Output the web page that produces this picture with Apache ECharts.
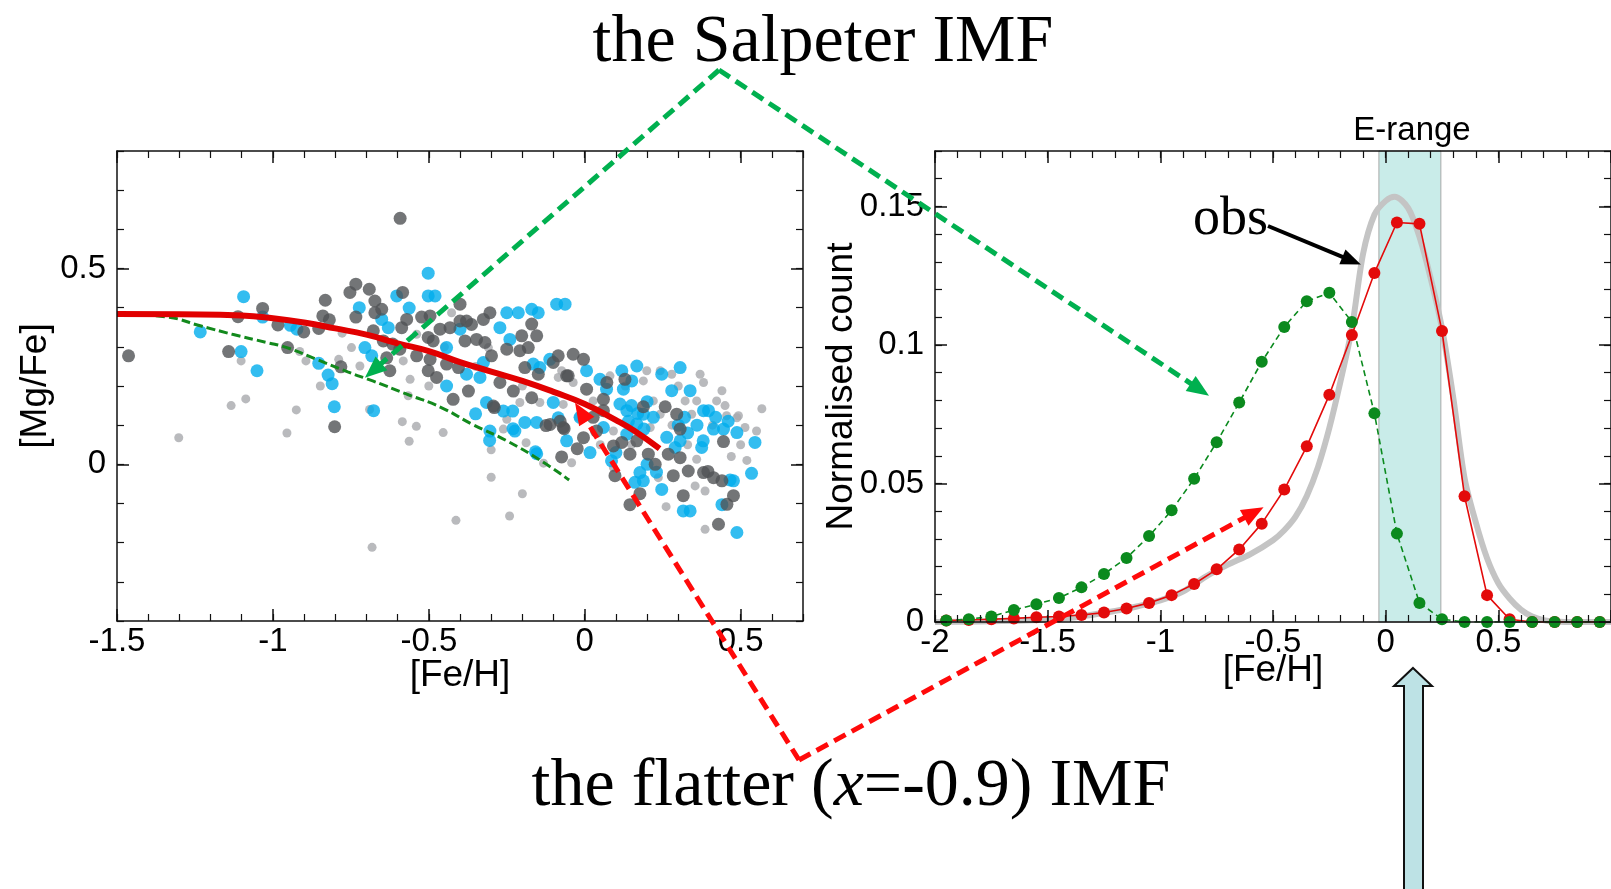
<!DOCTYPE html>
<html>
<head>
<meta charset="utf-8">
<script src="https://cdn.jsdelivr.net/npm/echarts@6/dist/echarts.min.js"></script>
<style>
html, body { margin: 0; padding: 0; background: #fff; }
#chart { width: 1611px; height: 889px; }
</style>
</head>
<body>
<div id="chart"></div>
<script>
// ---- left panel: [Mg/Fe] vs [Fe/H] ----
var lightPts = [[-1.302,0.068],[-1.134,0.15],[-1.087,0.167],[-1.102,0.264],[-0.955,0.08],[-0.925,0.139],[-0.914,0.288],[-0.894,0.264],
  [-0.848,0.2],[-0.789,0.268],[-0.778,0.335],[-0.748,0.298],[-0.721,0.251],[-0.69,0.14],[-0.682,-0.212],[-0.585,0.109],[-0.54,0.097],
  [-0.563,0.059],[-0.582,0.264],[-0.56,0.217],[-0.566,0.175],[-0.539,0.332],[-0.454,0.081],[-0.427,0.387],[-0.413,-0.143],[-0.309,0.298],
  [-0.30,-0.033],[-0.30,0.037],[-0.261,0.09],[-0.25,0.115],[-0.241,-0.132],[-0.208,0.158],[-0.2,-0.075],[-0.188,0.055],[-0.144,0.158],
  [-0.132,0.003],[-0.085,0.222],[-0.074,0.239],[-0.069,0.153],[-0.042,0.004],[-0.037,0.209],[0.027,0.162],[0.081,0.226],[0.092,0.085],
  [0.092,-0.008],[0.188,0.213],[0.199,0.239],[0.21,0.094],[0.22,0.162],[0.236,-0.034],[0.242,0.239],[0.242,0.128],[0.261,-0.108],
  [0.279,0.23],[0.322,0.162],[0.343,0.128],[0.354,-0.055],[0.359,0.162],[0.359,0.013],[0.37,0.23],[0.381,0.209],[0.386,-0.068],
  [0.386,-0.166],[0.423,0.162],[0.44,0.188],[0.455,0.124],[0.488,0.119],[0.493,0.124],[0.514,0.094],[0.551,0.085],[0.568,0.142],
  [0.13,0.2],[0.3,0.2],[0.45,0.15],[0.5,0.05],[0.52,0.01],[0.41,0.1],[0.28,0.1],[0.15,0.05],[-0.02,0.12],[0.05,0.05],
  [-0.45,0.3],[-0.35,0.25],[-0.2,0.2],[-0.5,0.2],[0.33,0.05],[0.47,0.02]];

var bluePts = [[-1.094,0.428],[-1.233,0.338],[-1.102,0.288],[-1.051,0.239],[-1.033,0.376],[-0.944,0.355],[-0.923,0.345],[-0.853,0.258],
  [-0.823,0.228],[-0.81,0.206],[-0.803,0.147],[-0.677,0.137],[-0.35,0.129],[-0.305,0.061],[-0.23,0.091],[-0.158,0.032],
  [-0.502,0.488],[-0.502,0.43],[-0.48,0.43],[-0.603,0.43],[-0.563,0.399],[-0.723,0.4],[-0.651,0.37],[-0.63,0.349],[-0.705,0.298],
  [-0.683,0.277],[-0.443,0.298],[-0.443,0.2],[-0.379,0.23],[-0.336,0.222],[-0.315,0.158],[-0.304,0.085],[-0.261,0.136],[-0.231,0.136],
  [-0.224,0.085],[-0.192,0.107],[-0.154,0.107],[-0.154,0.027],[-0.101,0.158],[-0.085,0.119],[-0.25,0.387],[-0.213,0.387],[-0.17,0.396],
  [-0.149,0.387],[-0.272,0.349],[-0.24,0.319],[-0.09,0.409],[-0.063,0.409],[-0.165,0.256],[-0.144,0.247],[-0.112,0.268],[-0.325,0.26],
  [-0.4,0.345],[0.006,0.239],[0.049,0.217],[0.119,0.239],[0.167,0.251],[0.247,0.23],[0.306,0.247],[0.338,0.188],[0.279,0.188],
  [0.381,0.137],[0.397,0.137],[0.413,0.09],[0.445,0.09],[0.488,0.081],[0.546,0.056],[0.535,-0.023],[0.477,-0.042],[0.44,-0.103],
  [0.338,-0.119],[0.316,-0.119],[0.247,-0.064],[0.488,-0.174],[0.177,-0.021],[0.188,-0.042],[0.161,-0.046],[0.086,0.009],[0.017,0.03],
  [-0.058,0.06],[0.135,0.077],[0.167,0.103],[0.113,0.154],[0.135,0.137],[0.188,0.128],[0.263,0.069],[0.29,0.043],[0.306,0.06],
  [0.06,0.094],[-0.015,0.12],[0.07,0.192],[0.124,0.192],[0.151,0.213],[0.375,0.043],[0.466,-0.04],
  [0.15,0.15],[0.17,0.13],[0.2,0.16],[0.22,0.12],[0.14,0.11],[0.19,0.09],[0.3,0.1],[0.32,0.12],[0.33,0.08],[0.36,0.1],
  [0.42,0.12],[0.46,0.11],[0.38,0.06],[0.1,0.03],[0.2,0.0],[0.23,-0.02]];

var darkPts = [[-1.463,0.277],[-1.142,0.288],[-1.112,0.377],[-1.033,0.398],[-0.984,0.356],[-0.953,0.298],[-0.901,0.338],[-0.853,0.347],
  [-0.832,0.419],[-0.84,0.379],[-0.819,0.369],[-0.782,0.249],[-0.802,0.096],[-0.592,0.628],[-0.29,0.145],[-0.074,0.019],[-0.124,0.099],
  [-0.066,0.091],[-0.024,0.04],[0.395,-0.018],[-0.753,0.439],[-0.734,0.46],[-0.691,0.447],[-0.673,0.417],[-0.651,0.396],[-0.673,0.387],
  [-0.734,0.376],[-0.584,0.439],[-0.571,0.37],[-0.587,0.349],[-0.523,0.376],[-0.496,0.379],[-0.678,0.341],[-0.646,0.315],[-0.616,0.307],
  [-0.635,0.272],[-0.625,0.239],[-0.593,0.294],[-0.539,0.277],[-0.502,0.239],[-0.502,0.324],[-0.486,0.315],[-0.475,0.222],[-0.496,0.268],
  [-0.464,0.345],[-0.443,0.256],[-0.4,0.409],[-0.432,0.349],[-0.4,0.366],[-0.379,0.366],[-0.363,0.357],[-0.384,0.315],[-0.347,0.319],
  [-0.32,0.311],[-0.304,0.387],[-0.325,0.37],[-0.405,0.247],[-0.373,0.187],[-0.422,0.166],[-0.293,0.149],[-0.299,0.277],[-0.272,0.209],
  [-0.25,0.294],[-0.229,0.187],[-0.202,0.328],[-0.17,0.358],[-0.154,0.328],[-0.192,0.247],[-0.17,0.17],[-0.149,0.23],[-0.111,0.102],
  [-0.079,0.11],[-0.101,0.26],[-0.085,0.277],[-0.058,0.226],[-0.208,0.29],[-0.181,0.298],[-0.037,0.281],[-0.004,0.268],[-0.053,0.226],
  [0.006,0.192],[0.06,0.166],[0.071,0.209],[0.129,0.217],[0.188,0.147],[0.258,0.147],[0.295,0.128],[0.306,0.09],[0.445,0.058],
  [0.092,0.047],[0.119,0.056],[0.167,0.06],[0.145,0.026],[0.204,0.026],[0.226,0.0],[0.268,0.026],[0.306,0.017],[0.284,-0.029],
  [0.332,-0.017],[0.381,-0.021],[0.413,-0.034],[0.44,-0.042],[0.477,-0.08],[0.456,-0.102],[0.316,-0.08],[0.177,-0.075],[0.145,-0.103],
  [0.097,-0.029],[0.429,-0.153],[-0.004,0.068],[-0.069,0.094],[0.038,0.085],[0.027,0.12],[0.06,0.137]];

// model tracks (flatter IMF = red, Salpeter = green)
var redModelX = [-1.5, -1.3, -1.1, -1.0, -0.9, -0.8, -0.7, -0.6, -0.5, -0.4, -0.3, -0.2, -0.1, 0, 0.1, 0.16, 0.24];
var redModelY = [0.384, 0.383, 0.38, 0.373, 0.362, 0.347, 0.331, 0.309, 0.289, 0.261, 0.237, 0.213, 0.185, 0.154, 0.113, 0.085, 0.040];
var greenModelX = [-1.5, -1.34, -1.23, -1.13, -1.02, -0.955, -0.86, -0.76, -0.68, -0.57, -0.46, -0.36, -0.25, -0.14, -0.05];
var greenModelY = [0.384, 0.376, 0.353, 0.332, 0.311, 0.298, 0.268, 0.236, 0.213, 0.179, 0.145, 0.102, 0.06, 0.009, -0.04];

// ---- right panel: MDF ----
var binCenters = [-1.95,-1.85,-1.75,-1.65,-1.55,-1.45,-1.35,-1.25,-1.15,-1.05,-0.95,-0.85,-0.75,-0.65,-0.55,
  -0.45,-0.35,-0.25,-0.15,-0.05,0.05,0.15,0.25,0.35,0.45,0.55,0.65,0.75,0.85,0.95];
var redCounts = [0.0005,0.0007,0.001,0.0013,0.0017,0.002,0.0025,0.0034,0.0049,0.0069,0.0097,0.0137,0.019,0.0262,0.0355,
  0.0478,0.0634,0.082,0.1036,0.126,0.1442,0.1437,0.105,0.0454,0.0097,0.001,0,0,0,0];
var greenCounts = [0.0005,0.001,0.002,0.0043,0.0064,0.0087,0.0125,0.0173,0.0231,0.031,0.0403,0.0517,0.0649,0.0792,0.0939,
  0.1065,0.1158,0.1188,0.1083,0.0753,0.0319,0.0069,0.001,0,0,0,0,0,0,0];
var obsX = [-2.0,-1.8,-1.6,-1.4,-1.2,-1.1,-1.0,-0.9,-0.8,-0.7,-0.6,-0.5,-0.45,-0.4,-0.35,-0.3,-0.25,-0.2,-0.15,-0.1,-0.05,
  0,0.04,0.1,0.15,0.2,0.25,0.3,0.35,0.4,0.45,0.5,0.55,0.6,0.65,0.7,0.75,0.85,1.0];
var obsY = [0,0.0002,0.0005,0.0015,0.004,0.0057,0.0078,0.011,0.0163,0.0207,0.0245,0.0295,0.0331,0.038,0.0455,0.056,0.070,
  0.087,0.106,0.133,0.147,0.152,0.1535,0.1494,0.139,0.124,0.106,0.081,0.052,0.036,0.023,0.014,0.0085,0.0045,0.002,0.0007,0.0002,0,0];
var eRange = [-0.03, 0.245];

// ticks / labels
var leftXTicks = [-1.5, -1, -0.5, 0, 0.5];
var leftYTicks = [0, 0.5];
var rightXTicks = [-2, -1.5, -1, -0.5, 0, 0.5, 1];
var rightXLabels = [-2, -1.5, -1, -0.5, 0, 0.5];
var rightYTicks = [0, 0.05, 0.1, 0.15];

function zip(xs, ys) { return xs.map(function (x, i) { return [x, ys[i]]; }); }

var SANS = 'Liberation Sans', SERIF = 'Liberation Serif';

function axisSet(dim, grid, min, max, majors, labels, minorStep, name, nameGap) {
  var sides = dim === 'x' ? ['bottom', 'top'] : ['left', 'right'];
  var out = [];
  sides.forEach(function (pos, k) {
    out.push({
      type: 'value', gridIndex: grid, position: pos, min: min, max: max, z: 5,
      splitLine: { show: false },
      axisLine: { show: true, onZero: false, lineStyle: { color: '#111', width: 1.5 } },
      axisTick: { show: true, inside: true, length: 12, customValues: majors, lineStyle: { color: '#111', width: 1.5 } },
      axisLabel: k === 0 ? { show: true, customValues: labels, margin: dim === 'x' ? 4 : 11,
        color: '#000', fontSize: 33, fontFamily: SANS } : { show: false },
      name: k === 0 ? name : '', nameLocation: 'middle', nameGap: nameGap, nameMoveOverlap: false,
      nameTextStyle: { fontSize: 37, fontFamily: SANS, color: '#000' }
    });
    out.push({
      type: 'value', gridIndex: grid, position: pos, min: min, max: max, interval: minorStep, z: 5,
      splitLine: { show: false },
      axisLine: { show: false, onZero: false },
      axisTick: { show: true, inside: true, length: 7, lineStyle: { color: '#111', width: 1.2 } },
      axisLabel: { show: false }
    });
  });
  return out;
}

var chart = echarts.init(document.getElementById('chart'));

var L = { xAxisIndex: 0, yAxisIndex: 0 };
var R = { xAxisIndex: 4, yAxisIndex: 4 };

var option = {
  animation: false,
  backgroundColor: '#fff',
  grid: [
    { left: 117, top: 151, width: 686, height: 470 },
    { left: 935, top: 151, width: 681, height: 471 }
  ],
  xAxis: axisSet('x', 0, -1.5, 0.7, leftXTicks, leftXTicks, 0.1, '[Fe/H]', 36)
    .concat(axisSet('x', 1, -2, 1, rightXTicks, rightXLabels, 0.1, '[Fe/H]', 30)),
  yAxis: axisSet('y', 0, -0.4, 0.8, leftYTicks, leftYTicks, 0.1, '[Mg/Fe]', 63)
    .concat(axisSet('y', 1, 0, 0.17, rightYTicks, rightYTicks, 0.01, 'Normalised count', 75)),
  series: [
    Object.assign({ type: 'scatter', data: lightPts, symbolSize: 9, itemStyle: { color: '#a7a9ac' } }, L),
    Object.assign({ type: 'scatter', data: bluePts, symbolSize: 13, itemStyle: { color: '#00acec' } }, L),
    Object.assign({ type: 'scatter', data: darkPts, symbolSize: 13, itemStyle: { color: '#505255' } }, L),
    Object.assign({ type: 'line', data: zip(greenModelX, greenModelY), smooth: true, showSymbol: false,
      lineStyle: { color: '#12891c', width: 3, type: [9, 4] } }, L),
    Object.assign({ type: 'line', data: zip(redModelX, redModelY), smooth: true, showSymbol: false,
      lineStyle: { color: '#e10000', width: 6 } }, L),
    Object.assign({ type: 'line', z: 1, data: [[eRange[0], 0]], showSymbol: false, lineStyle: { opacity: 0 },
      markArea: { silent: true, itemStyle: { color: '#c9ece9', borderColor: '#a8a8a8', borderWidth: 1 },
        data: [[{ xAxis: eRange[0] }, { xAxis: eRange[1] }]] } }, R),
    Object.assign({ type: 'line', data: zip(obsX, obsY), smooth: 0.3, showSymbol: false,
      lineStyle: { color: '#c4c4c4', width: 6 } }, R),
    Object.assign({ type: 'line', data: zip(binCenters, redCounts), symbol: 'circle', symbolSize: 12,
      lineStyle: { color: '#e30b0b', width: 1.6 }, itemStyle: { color: '#e30b0b' } }, R),
    Object.assign({ type: 'line', data: zip(binCenters, greenCounts), symbol: 'circle', symbolSize: 12,
      lineStyle: { color: '#0b8a1e', width: 1.6, type: [6, 4] }, itemStyle: { color: '#0b8a1e' } }, R)
  ]
};

chart.setOption(option);

// annotation arrows, tips anchored on the data
function px(g, xy) { return chart.convertToPixel({ xAxisIndex: g * 4, yAxisIndex: g * 4 }, xy); }

function arrow(from, to, color, width, dash, headLen, headW) {
  var dx = to[0] - from[0], dy = to[1] - from[1], len = Math.sqrt(dx * dx + dy * dy);
  var ux = dx / len, uy = dy / len;
  var bx = to[0] - ux * headLen, by = to[1] - uy * headLen;
  return [
    { type: 'polyline', z: 100, shape: { points: [from, [bx + ux * 2, by + uy * 2]] },
      style: { stroke: color, lineWidth: width, lineDash: dash, fill: null } },
    { type: 'polygon', z: 101, shape: { points: [to, [bx - uy * headW, by + ux * headW], [bx + uy * headW, by - ux * headW]] },
      style: { fill: color } }
  ];
}

var salpApex = [719, 70], flatApex = [799, 760];
var els = [];
els = els.concat(arrow(salpApex, px(0, [-0.705, 0.221]), '#00b04f', 5, [13, 7], 22, 9));
els = els.concat(arrow(salpApex, px(1, [-0.784, 0.0817]), '#00b04f', 5, [13, 7], 22, 9));
els = els.concat(arrow(flatApex, px(0, [-0.031, 0.157]), '#ff0a0a', 5, [13, 7], 22, 9));
els = els.concat(arrow(flatApex, px(1, [-0.542, 0.0414]), '#ff0a0a', 5, [13, 7], 22, 9));
els = els.concat(arrow([1268, 226], px(1, [-0.11, 0.129]), '#000', 4, null, 20, 8));

els.push({ type: 'text', z: 110, x: 823, y: 43,
  style: { text: 'the Salpeter IMF', font: '68px "' + SERIF + '"', fill: '#000', align: 'center', verticalAlign: 'middle' } });
els.push({ type: 'text', z: 110, x: 851, y: 787,
  style: { text: '{a|the flatter (}{b|x}{a|=-0.9) IMF}', align: 'center', verticalAlign: 'middle', fill: '#000',
    rich: { a: { fontFamily: SERIF, fontSize: 68, fill: '#000' },
            b: { fontFamily: SERIF, fontSize: 68, fontStyle: 'italic', fill: '#000' } } } });
els.push({ type: 'text', z: 110, x: 1268, y: 220,
  style: { text: 'obs', font: '54px "' + SERIF + '"', fill: '#000', align: 'right', verticalAlign: 'middle' } });
els.push({ type: 'text', z: 110, x: 1412, y: 131,
  style: { text: 'E-range', font: '33px "' + SANS + '"', fill: '#000', align: 'center', verticalAlign: 'middle' } });
// big up arrow below the E-range
els.push({ type: 'polygon', z: 100,
  shape: { points: [[1413, 668], [1432, 686], [1423, 686], [1423, 900], [1404, 900], [1404, 686], [1394, 686]] },
  style: { fill: '#bde2e5', stroke: '#111', lineWidth: 2 } });

chart.setOption({ graphic: els });
</script>
</body>
</html>
